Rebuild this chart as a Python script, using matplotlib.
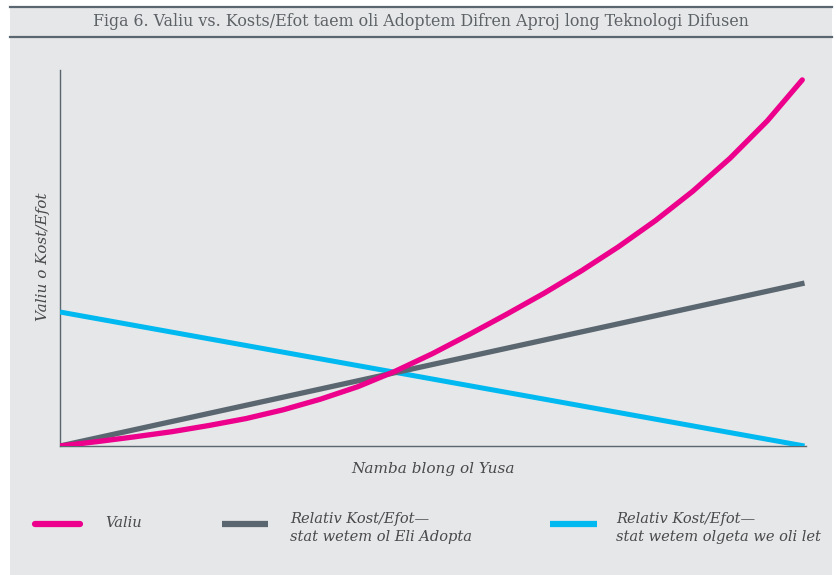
import matplotlib
matplotlib.use("Agg")
import matplotlib.pyplot as plt
from matplotlib.lines import Line2D
from matplotlib.patches import Rectangle

# data (arbitrary units, x = users 0..10)
users = [0, 0.5, 1, 1.5, 2, 2.5, 3, 3.5, 4, 4.5, 5, 5.5, 6, 6.5, 7, 7.5, 8, 8.5, 9, 9.5, 9.97]
valiu = [0, 1.2, 2.5, 3.9, 5.6, 7.5, 9.9, 12.8, 16.2, 20.4, 25.2, 30.5, 36.0, 41.7, 47.8,
         54.4, 61.6, 69.6, 78.6, 88.8, 100.0]
early_x = [0, 10]
early_cost = [0, 44.5]
late_x = [0, 10]
late_cost = [36.6, 0]

title = "Figa 6. Valiu vs. Kosts/Efot taem oli Adoptem Difren Aproj long Teknologi Difusen"
xlabel = "Namba blong ol Yusa"
ylabel = "Valiu o Kost/Efot"
legend_labels = ["Valiu", "Relativ Kost/Efot\u2014\nstat wetem ol Eli Adopta",
                 "Relativ Kost/Efot\u2014\nstat wetem olgeta we oli let"]

pink = "#ec008c"
slate = "#5b6770"
cyan = "#00b9f1"
bg = "#e6e7e8"
txt = "#4a4a4c"
W, H = 836, 575

fig = plt.figure(figsize=(W / 100, H / 100), dpi=100)
fig.patch.set_facecolor("white")
fig.patches.append(Rectangle((10 / W, 0), 822 / W, 1 - 6 / H, transform=fig.transFigure,
                             facecolor=bg, edgecolor="none", zorder=-5))
for yy in (6.5, 36.5):
    fig.lines.append(Line2D([10 / W, 832 / W], [1 - yy / H] * 2, transform=fig.transFigure,
                            color=slate, lw=1.6, zorder=-4))
fig.text(421 / W, 1 - 21 / H, title, ha="center", va="center", fontsize=11.4,
         family="DejaVu Serif", color="#5d6266")

ax = fig.add_axes([60 / W, 1 - 446 / H, 746 / W, 376 / H])
ax.set_zorder(2)
ax.set_facecolor("none")
ax.plot(early_x, early_cost, color=slate, lw=3.8, solid_capstyle="butt", zorder=3)
ax.plot(late_x, late_cost, color=cyan, lw=3.6, solid_capstyle="butt", zorder=2)
ax.plot(users, valiu, color=pink, lw=3.8, solid_capstyle="round",
        solid_joinstyle="round", zorder=4)
ax.set_xlim(0, 10.02)
ax.set_ylim(0, 102.7)
ax.set_xticks([])
ax.set_yticks([])
for s in ("top", "right"):
    ax.spines[s].set_visible(False)
for s in ("left", "bottom"):
    ax.spines[s].set_color(slate)
    ax.spines[s].set_linewidth(1.0)
for sp in ax.spines.values():
    sp.set_zorder(1)

fig.text(433 / W, 1 - 469 / H, xlabel, ha="center", va="center", fontsize=11,
         style="italic", family="DejaVu Serif", color=txt)
fig.text(43 / W, 1 - 257 / H, ylabel, ha="center", va="center", fontsize=11,
         style="italic", family="DejaVu Serif", color=txt, rotation=90)

# legend
leg = [(35, 80, pink, "round", 105, 523), (222, 268, slate, "butt", 290, 528),
       (550, 597, cyan, "butt", 616, 528)]
for (x0, x1, c, cap, tx, ty), lab in zip(leg, legend_labels):
    fig.lines.append(Line2D([x0 / W, x1 / W], [1 - 524 / H] * 2, transform=fig.transFigure,
                            color=c, lw=4.5, solid_capstyle=cap))
    fig.text(tx / W, 1 - ty / H, lab, ha="left", va="center", fontsize=10.5,
             style="italic", family="DejaVu Serif", color=txt, linespacing=1.45)

fig.savefig("out.png", dpi=100, facecolor=fig.get_facecolor())
